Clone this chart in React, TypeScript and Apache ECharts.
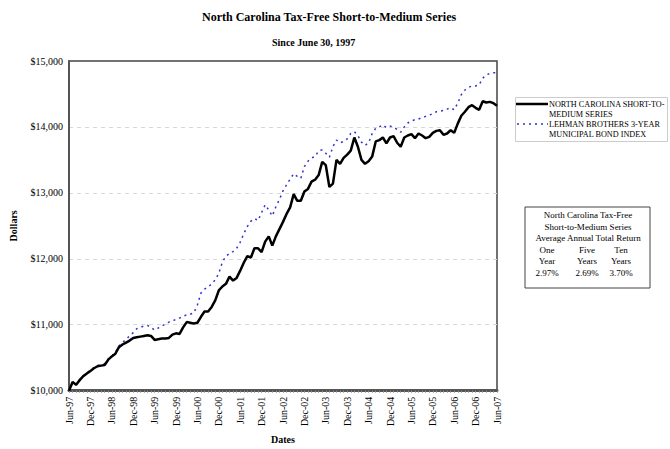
import React, { useEffect, useRef } from "react";
import * as echarts from "echarts";

const MONTHS = ["Jan", "Feb", "Mar", "Apr", "May", "Jun", "Jul", "Aug", "Sep", "Oct", "Nov", "Dec"];
// Monthly dates Jun-97 .. Jun-07
const dates: string[] = [];
for (let i = 0; i <= 120; i++) {
  const mi = (5 + i) % 12;
  const yr = 1997 + Math.floor((5 + i) / 12);
  dates.push(MONTHS[mi] + "-" + String(yr % 100).padStart(2, "0"));
}

const ncSeries = [
  10000, 10130, 10090, 10160, 10220, 10260, 10300, 10340, 10370, 10380,
  10390, 10470, 10520, 10560, 10660, 10700, 10730, 10760, 10800, 10810,
  10820, 10830, 10840, 10830, 10770, 10780, 10790, 10790, 10800, 10850,
  10870, 10860, 10960, 11040, 11030, 11020, 11030, 11120, 11200, 11200,
  11270, 11370, 11520, 11580, 11620, 11730, 11670, 11710, 11820, 11940,
  12040, 12020, 12160, 12160, 12100, 12260, 12340, 12200, 12340, 12450,
  12560, 12680, 12780, 12980, 12880, 12880, 13020, 13060, 13170, 13200,
  13270, 13470, 13420, 13090, 13140, 13500, 13440, 13530, 13580, 13640,
  13840, 13700, 13500, 13440, 13480, 13550, 13780, 13800, 13840, 13750,
  13840, 13860, 13760, 13700, 13840, 13870, 13890, 13830, 13900, 13870,
  13830, 13850, 13910, 13940, 13950, 13880, 13900, 13950, 13910, 14050,
  14170, 14230, 14300, 14330, 14290, 14260, 14390, 14370, 14380, 14360,
  14320,
];

const lehmanSeries = [
  10000, 10120, 10090, 10170, 10230, 10270, 10310, 10350, 10380, 10400,
  10410, 10480, 10530, 10580, 10680, 10730, 10780, 10830, 10880, 10940,
  10960, 10980, 10990, 10960, 10920, 10950, 10980, 11010, 11040, 11060,
  11080, 11100, 11130, 11150, 11160, 11180, 11300, 11480, 11540, 11570,
  11620, 11680, 11780, 11950, 12040, 12080, 12110, 12160, 12250, 12380,
  12490, 12570, 12610, 12580, 12700, 12820, 12740, 12650, 12790, 12900,
  13030, 13120, 13210, 13290, 13250, 13220, 13400, 13480, 13530, 13550,
  13640, 13650, 13600, 13540, 13700, 13800, 13760, 13780, 13820, 13900,
  13930, 13870, 13770, 13720, 13760, 13900, 13980, 14000, 14030, 13990,
  14010, 14000, 13960, 13920, 14000, 14060, 14090, 14110, 14120, 14140,
  14160, 14180, 14200, 14230, 14240, 14250, 14270, 14290, 14260, 14360,
  14490, 14560, 14600, 14620, 14620, 14640, 14740, 14790, 14810, 14820,
  14820,
];

const seriesNames = [
  "NORTH CAROLINA SHORT-TO-MEDIUM SERIES",
  "LEHMAN BROTHERS 3-YEAR MUNICIPAL BOND INDEX",
];
const legendLines = [
  ["NORTH CAROLINA SHORT-TO-", "MEDIUM SERIES"],
  ["LEHMAN BROTHERS 3-YEAR", "MUNICIPAL BOND INDEX"],
];

const returnHeaders1 = ["One", "Five", "Ten"];
const returnHeaders2 = ["Year", "Years", "Years"];
const returnValues = ["2.97%", "2.69%", "3.70%"];

const SERIF = "'Liberation Serif', 'Times New Roman', serif";
const NC_COLOR = "#000000";
const LEH_COLOR = "#3333cc";

export default function App() {
  const ref = useRef<HTMLDivElement>(null);
  useEffect(() => {
    if (!ref.current) return;
    document.body.style.margin = "0";
    const chart = echarts.init(ref.current, null, { renderer: "svg" });
    const colX = [547, 587, 621];
    const tableTexts: any[] = [];
    ["North Carolina Tax-Free", "Short-to-Medium Series", "Average Annual Total Return"].forEach((t, i) => {
      tableTexts.push({
        type: "text",
        x: 588,
        y: 215 + i * 11.5,
        style: { text: t, font: `9px ${SERIF}`, fill: "#000", textAlign: "center", textVerticalAlign: "middle" },
      });
    });
    [returnHeaders1, returnHeaders2, returnValues].forEach((row, r) => {
      row.forEach((t, c) => {
        tableTexts.push({
          type: "text",
          x: colX[c],
          y: 249.5 + r * 11.5,
          style: { text: t, font: `9px ${SERIF}`, fill: "#000", textAlign: "center", textVerticalAlign: "middle" },
        });
      });
    });

    const legendEls: any[] = [
      {
        type: "rect",
        shape: { x: 515.5, y: 97.5, width: 152, height: 44 },
        style: { fill: "#fff", stroke: "#cccccc", lineWidth: 1 },
      },
      {
        type: "line",
        shape: { x1: 516, y1: 104, x2: 548, y2: 104 },
        style: { stroke: NC_COLOR, lineWidth: 2.5 },
      },
      {
        type: "line",
        shape: { x1: 517, y1: 124, x2: 548, y2: 124 },
        style: { stroke: LEH_COLOR, lineWidth: 1.5, lineDash: [2, 4] },
      },
    ];
    legendLines.forEach((pair, i) => {
      pair.forEach((t, j) => {
        legendEls.push({
          type: "text",
          x: 549,
          y: 104 + i * 20 + j * 10,
          style: { text: t, font: `8.2px ${SERIF}`, fill: "#000", textAlign: "left", textVerticalAlign: "middle" },
        });
      });
    });

    chart.setOption({
      animation: false,
      backgroundColor: "#fff",
      title: [
        {
          text: "North Carolina Tax-Free Short-to-Medium Series",
          left: 202,
          top: 11,
          padding: 0,
          textStyle: { fontFamily: SERIF, fontWeight: "bold", fontSize: 12, color: "#000" },
        },
        {
          text: "Since June 30, 1997",
          left: 272,
          top: 37,
          padding: 0,
          textStyle: { fontFamily: SERIF, fontWeight: "bold", fontSize: 10, color: "#000" },
        },
      ],
      grid: {
        left: 61,
        right: 173,
        top: 61,
        bottom: 58,
        show: true,
        borderColor: "#444",
        borderWidth: 1.5,
        containLabel: false,
      },
      xAxis: {
        type: "category",
        data: dates,
        boundaryGap: false,
        name: "Dates",
        nameLocation: "middle",
        nameGap: 43,
        nameTextStyle: { fontFamily: SERIF, fontWeight: "bold", fontSize: 10, color: "#000" },
        axisLine: { lineStyle: { color: "#555", width: 3 } },
        axisTick: { show: true, interval: 0, length: 2, inside: false, lineStyle: { color: "#888", width: 1 } },
        axisLabel: {
          interval: 5,
          rotate: 90,
          margin: 6,
          fontFamily: SERIF,
          fontSize: 10,
          color: "#000",
        },
        splitLine: { show: false },
      },
      yAxis: {
        type: "value",
        min: 10000,
        max: 15000,
        interval: 1000,
        name: "Dollars",
        nameLocation: "middle",
        nameRotate: 90,
        nameGap: 51,
        nameTextStyle: { fontFamily: SERIF, fontWeight: "bold", fontSize: 10, color: "#000" },
        axisLine: { show: true, lineStyle: { color: "#555", width: 2 } },
        axisTick: { show: false },
        axisLabel: {
          margin: 6,
          fontFamily: SERIF,
          fontSize: 10,
          color: "#000",
          formatter: (v: number) => "$" + v.toLocaleString("en-US"),
        },
        splitLine: {
          show: true,
          showMinLine: false,
          showMaxLine: false,
          lineStyle: { color: "#d8d8d8", type: [4, 4], width: 1 },
        },
      },
      series: [
        {
          name: seriesNames[0],
          type: "line",
          data: ncSeries,
          symbol: "none",
          lineStyle: { color: NC_COLOR, width: 2.5 },
          itemStyle: { color: NC_COLOR },
          z: 3,
        },
        {
          name: seriesNames[1],
          type: "line",
          data: lehmanSeries,
          symbol: "none",
          lineStyle: { color: LEH_COLOR, width: 1.5, type: [2, 4] },
          itemStyle: { color: LEH_COLOR },
          z: 2,
        },
      ],
      graphic: [
        ...legendEls,
        {
          type: "rect",
          shape: { x: 525, y: 207, width: 125, height: 81 },
          style: { fill: "#fff", stroke: "#444", lineWidth: 1 },
        },
        ...tableTexts,
      ],
    });
    return () => chart.dispose();
  }, []);
  return <div ref={ref} style={{ width: 670, height: 449 }} />;
}
